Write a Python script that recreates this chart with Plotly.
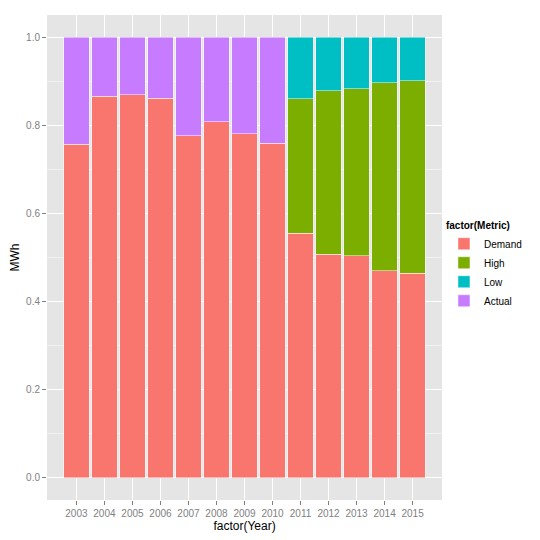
import plotly.graph_objects as go

# values (shares of MWh, each year stacks to 1.0)
years = [ '2003', '2004', '2005', '2006', '2007', '2008', '2009',
          '2010', '2011', '2012', '2013', '2014', '2015' ]

demand = [ 0.757, 0.866, 0.869, 0.861, 0.776, 0.808, 0.781,
           0.759, 0.555, 0.507, 0.504, 0.470, 0.464 ]
high   = [ None, None, None, None, None, None, None,
           None, 0.305, 0.371, 0.379, 0.426, 0.437 ]
low    = [ None, None, None, None, None, None, None,
           None, 0.140, 0.122, 0.117, 0.104, 0.099 ]
actual = [ 0.243, 0.134, 0.131, 0.139, 0.224, 0.192, 0.219,
           0.241, None, None, None, None, None ]

y_ticks = [ 0.0, 0.2, 0.4, 0.6, 0.8, 1.0 ]

series = [
  ( 'Demand', demand, '#F8766D' ),
  ( 'High',   high,   '#7CAE00' ),
  ( 'Low',    low,    '#00BFC4' ),
  ( 'Actual', actual, '#C77CFF' ),
]

fig = go.Figure( )
for name, vals, color in series :
  fig.add_trace( go.Bar(
    x = years,
    y = vals,
    name = name,
    marker = dict( color = color, line = dict( color = 'rgba(255,255,255,0.6)', width = 0.8 ) ),
  ) )

grey50 = '#7F7F7F'

# the page body adds an 8px offset, so the figure is 532 and margins are trimmed
fig.update_layout(
  width = 532,
  height = 532,
  barmode = 'stack',
  bargap = 0.1,
  paper_bgcolor = 'white',
  plot_bgcolor = '#E5E5E5',
  margin = dict( l = 39, r = 98, t = 7, b = 40 ),
  font = dict( family = 'Liberation Sans, Arial, sans-serif', size = 10, color = 'black' ),
  showlegend = True,
  legend = dict(
    title = dict( text = '<b>factor(Metric)</b>', font = dict( size = 10 ) ),
    traceorder = 'normal',
    x = 1.005, xanchor = 'left',
    y = 0.483, yanchor = 'middle',
    bgcolor = 'white',
    font = dict( size = 10 ),
    tracegroupgap = 0,
  ),
  xaxis = dict(
    title = dict( text = 'factor(Year)', font = dict( size = 12 ), standoff = 0 ),
    type = 'category',
    range = [ -1.05, 12 + 1.05 ],
    automargin = False,
    showgrid = True,
    gridcolor = 'white',
    gridwidth = 1,
    ticks = 'outside',
    ticklen = 4,
    tickcolor = grey50,
    tickfont = dict( color = grey50, size = 10 ),
    zeroline = False,
    showline = False,
  ),
  yaxis = dict(
    title = dict( text = 'MWh', font = dict( size = 12 ), standoff = 4 ),
    range = [ -0.05, 1.05 ],
    automargin = False,
    tickvals = y_ticks,
    ticktext = [ f'{v:.1f}' for v in y_ticks ],
    showgrid = True,
    gridcolor = 'white',
    gridwidth = 1,
    minor = dict( dtick = 0.1, tick0 = 0.1, showgrid = True, gridcolor = '#F2F2F2', gridwidth = 0.8 ),
    ticks = 'outside',
    ticklen = 4,
    tickcolor = grey50,
    tickfont = dict( color = grey50, size = 10 ),
    zeroline = False,
    showline = False,
  ),
)

fig.write_html( 'out.html' )
